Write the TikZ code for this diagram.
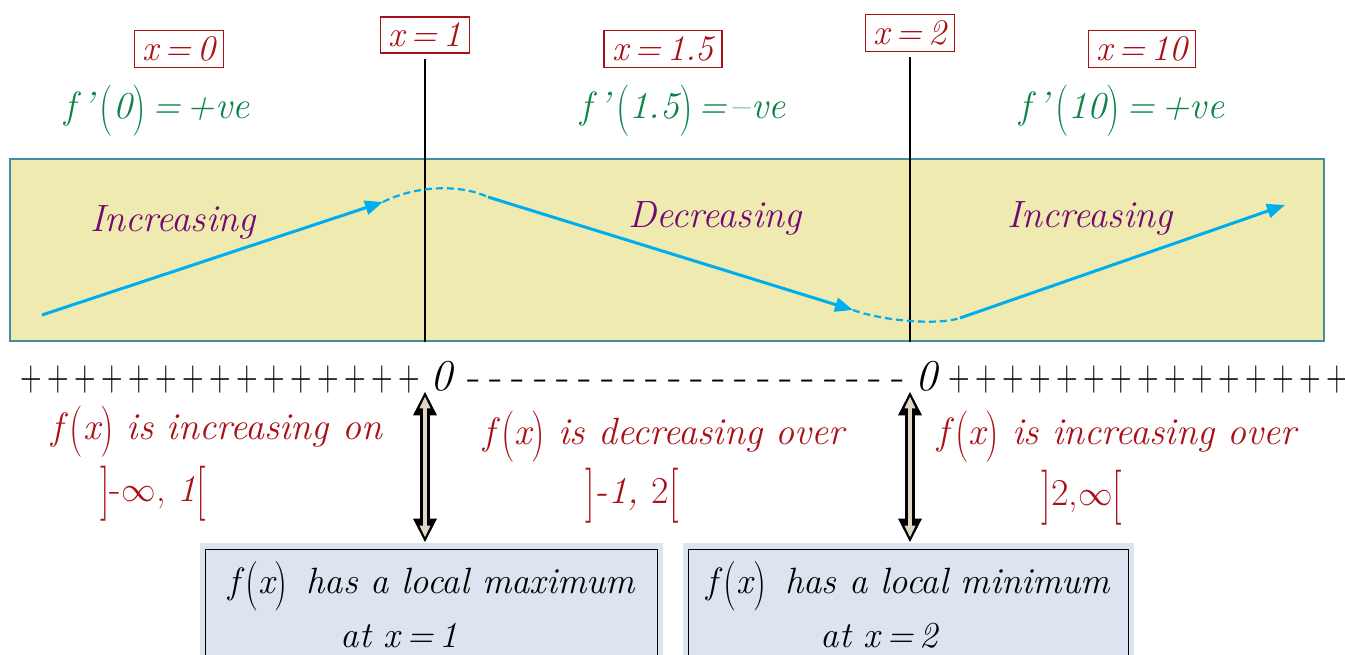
\documentclass[tikz,border=0pt]{standalone}
\usepackage{fontspec}
\usepackage{graphicx}
\usetikzlibrary{arrows.meta,positioning,calc}
\definecolor{cband}{RGB}{238,234,176}
\definecolor{cedge}{RGB}{70,140,160}
\definecolor{cred}{RGB}{170,16,22}
\definecolor{cgreen}{RGB}{10,132,72}
\definecolor{cpurp}{RGB}{116,8,116}
\definecolor{cblue}{RGB}{0,174,239}
\definecolor{cbox}{RGB}{220,228,240}
\definecolor{cbeige}{RGB}{222,216,196}
\newcommand{\bigp}[1]{\,\raisebox{-.14em}{\scalebox{1}[1.35]{\upshape(}}#1\raisebox{-.14em}{\scalebox{1}[1.35]{\upshape)}}}
\newcommand{\bigb}[1]{\raisebox{-.16em}{\scalebox{1}[1.45]{\upshape #1}}}

\begin{document}
\begin{tikzpicture}[x=0.5pt,y=-0.5pt,
  font=\fontsize{19}{24}\selectfont\itshape,
  xlbl/.style={draw=cred,line width=0.8pt,text=cred,font=\fontsize{18}{22}\selectfont\itshape,inner xsep=4pt,inner ysep=3pt},
  slope/.style={text=cgreen},
  trend/.style={text=cpurp},
  note/.style={text=cred},
  sign/.style={inner sep=0pt,anchor=base,font=\fontsize{22}{24}\selectfont},
  band/.style={draw=cedge,fill=cband,line width=1pt,minimum width=657pt,minimum height=91pt},
  vline/.style={line width=0.8pt,shorten <=2.5pt},
  flow/.style={cblue,line width=1.5pt,-{Triangle[length=9pt,width=7pt]}},
  flowdash/.style={cblue,line width=1.1pt,dash pattern=on 3.5pt off 2pt},
  dblout/.style={line width=5pt,{Triangle[length=12pt,width=11pt]}-{Triangle[length=12pt,width=11pt]}},
  dblin/.style={cbeige,line width=2pt,shorten <=2.5pt,shorten >=2.5pt,{Triangle[length=6pt,width=5pt]}-{Triangle[length=6pt,width=5pt]}},
  result/.style={fill=cbox,minimum height=62pt,align=center,font=\fontsize{18.3}{27}\selectfont\itshape}
]
  \clip (0,0) rectangle (1345,654);

  % values of x
  \node[xlbl] (lbla) at (179,49) {x\,=\,0};
  \node[xlbl] (lblb) at (425,35) {x\,=\,1};
  \node[xlbl] (lblc) at (663,49) {x\,=\,1.5};
  \node[xlbl] (lbld) at (910,33) {x\,=\,2};
  \node[xlbl] (lble) at (1142,49) {x\,=\,10};

  \node[slope] (slpa) at (157,111) {f\,'\bigp{0}\,=\,+ve};
  \node[slope] (slpc) at (683,111) {f\,'\bigp{1.5}\,=\,\upshape{--}\itshape ve};
  \node[slope] (slpe) at (1122,111) {f\,'\bigp{10}\,=\,+ve};

  % band with the curve
  \node[band] (band) at (667,250) {};
  \draw[vline] (lblb.south) -- (lblb.south |- band.south);
  \draw[vline] (lbld.south) -- (lbld.south |- band.south);

  \coordinate (c0) at (42,315);
  \coordinate (c1) at (383,202);
  \coordinate (c2) at (488,197);
  \coordinate (c3) at (853,310);
  \coordinate (c4) at (960,318);
  \coordinate (c5) at (1285,205);
  \draw[flow] (c0) -- (c1);
  \draw[flowdash] (c1) .. controls (410,188) and (455,182) .. (c2);
  \draw[flow] (c2) -- (c3);
  \draw[flowdash] (c3) .. controls (880,320) and (935,326) .. (c4);
  \draw[flow] (c4) -- (c5);

  \node[trend] (inca) at (173,222) {Increasing};
  \node[trend] (dec) at (715,218) {Decreasing};
  \node[trend] (incb) at (1090,218) {Increasing};

  % sign row
  \foreach \i in {0,...,14} \node[sign] at (\i*27+31,390) {\scalebox{0.68}[1]{+}};
  \node[sign,font=\fontsize{22}{24}\selectfont\itshape] (zeroa) at (441,390) {0};
  \foreach \i in {0,...,19} \node[sign] at (\i*22.3+474,390) {-};
  \node[sign,font=\fontsize{22}{24}\selectfont\itshape] (zerob) at (926,390) {0};
  \foreach \i in {0,...,14} \node[sign] at (\i*27+959,390) {\scalebox{0.68}[1]{+}};

  \node[note] (nota) at (217,432) {f\bigp{x} is increasing on};
  \node[note] (inta) at (153,494) {\bigb{]}\upshape-$\infty$, \itshape 1\bigb{[}};
  \node[note] (notb) at (664,437) {f\bigp{x} is decreasing over};
  \node[note] (intb) at (632,496) {\bigb{]}-1, \upshape 2\bigb{[}};
  \node[note] (notc) at (1117,437) {f\bigp{x} is increasing over};
  \node[note] (intc) at (1082,498) {\bigb{]}\upshape 2,$\infty$\bigb{[}};

  % results
  \node[result,minimum width=231.5pt] (maxbox) at (431.5,605)
    {f\bigp{x}\ \,has a local maximum\\at x\,=\,1\hspace{32pt}\mbox{}};
  \node[result,minimum width=225.5pt] (minbox) at (908.5,605)
    {f\bigp{x}\ \,has a local minimum\\at x\,=\,2\hspace{29pt}\mbox{}};
  \draw[line width=0.8pt] ([shift={(6,7)}]maxbox.north west) rectangle ([shift={(-6,0)}]maxbox.south east);
  \draw[line width=0.8pt] ([shift={(6,7)}]minbox.north west) rectangle ([shift={(-6,0)}]minbox.south east);

  \draw[dblout] (lblb |- zeroa.south) -- (lblb |- maxbox.north);
  \draw[dblin] (lblb |- zeroa.south) -- (lblb |- maxbox.north);
  \draw[dblout] (lbld |- zerob.south) -- (lbld |- minbox.north);
  \draw[dblin] (lbld |- zerob.south) -- (lbld |- minbox.north);
\end{tikzpicture}
\end{document}
